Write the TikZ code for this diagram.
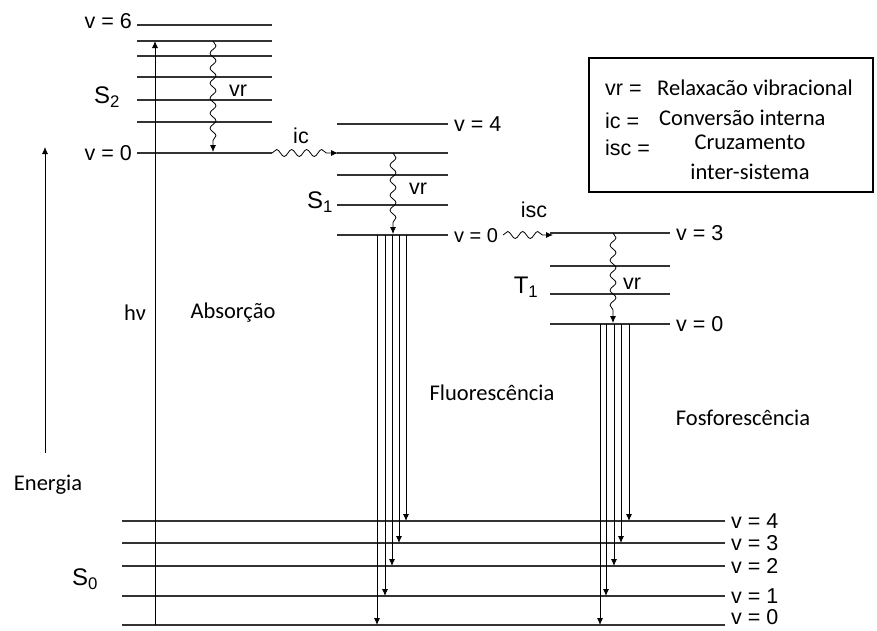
\documentclass[tikz,border=0pt]{standalone}
\usepackage{fontspec}
\setmainfont{Liberation Sans}
\newfontfamily\wordfont{Carlito}
\usetikzlibrary{arrows.meta, positioning, decorations.pathmorphing}
\tikzset{
  level/.style={line width=1.3pt, draw=black!80},
  arrow/.style={-{Latex[length=7pt,width=6pt]}, line width=0.9pt},
  wavy/.style={
    -{Latex[length=7pt,width=6pt]},
    line width=0.8pt,
    decorate,
    decoration={snake, amplitude=3pt, segment length=15pt, post length=7pt}
  },
  vlabel/.style={font=\fontsize{21.5}{24}\selectfont, inner sep=2pt},
  state/.style={font=\fontsize{24}{27}\selectfont, inner sep=0pt},
  word/.style={font=\wordfont\fontsize{22.5}{26}\selectfont, inner sep=0pt},
  legendbox/.style={draw, line width=1.8pt, inner sep=0pt}
}
\begin{document}
\begin{tikzpicture}[x=1pt, y=-1pt]
  \useasboundingbox (0,0) rectangle (877,630);

  % energy levels
  \foreach \y in {25,41,56,77,100,122,153}
    \draw[level] (137,\y) -- (272,\y);
  \foreach \y in {124,153,175,205,235}
    \draw[level] (337,\y) -- (448,\y);
  \foreach \y in {233,266,294,324}
    \draw[level] (550,\y) -- (670,\y);
  \foreach \y in {521,543,566,596,625}
    \draw[level] (122,\y) -- (725,\y);

  % state names
  \node[state] (s2) at (107,97) {S\textsubscript{2}};
  \node[state] (s1) at (320,202) {S\textsubscript{1}};
  \node[state] (t1) at (526,287) {T\textsubscript{1}};
  \node[state] (s0) at (85,579) {S\textsubscript{0}};

  % vibrational labels
  \node[vlabel, anchor=east] (s2hi) at (134,21) {v = 6};
  \node[vlabel, anchor=east] (s2lo) at (134,153) {v = 0};
  \node[vlabel, anchor=west] (s1hi) at (452,124) {v = 4};
  \node[vlabel, anchor=west, font=\fontsize{20}{23}\selectfont] (s1lo) at (452,236) {v = 0};
  \node[vlabel, anchor=west] (t1hi) at (674,233) {v = 3};
  \node[vlabel, anchor=west] (t1lo) at (674,324) {v = 0};
  \foreach \y/\v in {521/4,543/3,566/2,596/1,617/0}
    \node[vlabel, anchor=west] (s0v\v) at (729,\y) {v = \v};

  % energy axis
  \coordinate (enA) at (45,453);
  \coordinate (enB) at (45,147);
  \draw[arrow, line width=0.8pt] (enA) -- (enB);
  \node[word] (energia) at (48,485) {Energia};

  % absorption
  \coordinate (hvA) at (155,625);
  \coordinate (hvB) at (155,41);
  \draw[arrow] (hvA) -- (hvB);
  \node[word] (hv) at (135,313) {hν};
  \node[word] (abs) at (233,313) {Absorção};

  % vibrational relaxation and crossings
  \coordinate (vr2a) at (213,41);
  \coordinate (vr2b) at (213,152);
  \draw[wavy] (vr2a) -- (vr2b);
  \node[vlabel] (vr2) at (238,91) {vr};

  \coordinate (icA) at (272,153);
  \coordinate (icB) at (338,153);
  \draw[wavy, decoration={amplitude=3.5pt}] (icA) -- (icB);
  \node[vlabel] (ic) at (301,136) {ic};

  \coordinate (vr1a) at (393,153);
  \coordinate (vr1b) at (393,234);
  \draw[wavy] (vr1a) -- (vr1b);
  \node[vlabel] (vr1) at (418,189) {vr};

  \coordinate (iscA) at (503,235);
  \coordinate (iscB) at (553,235);
  \draw[wavy, decoration={amplitude=3.5pt}] (iscA) -- (iscB);
  \node[vlabel] (isc) at (534,210) {isc};

  \coordinate (vrta) at (613,233);
  \coordinate (vrtb) at (613,323);
  \draw[wavy] (vrta) -- (vrtb);
  \node[vlabel] (vrt) at (632,284) {vr};

  % emission
  \foreach \x/\y [count=\i] in {377/625,385/596,392/566,399/543,406/521} {
    \coordinate (fla\i) at (\x,235);
    \coordinate (flb\i) at (\x,\y);
    \draw[arrow] (fla\i) -- (flb\i);
  }
  \node[word] (fluor) at (492,393) {Fluorescência};

  \foreach \x/\y [count=\i] in {600/625,606/596,614/566,621/543,629/521} {
    \coordinate (pha\i) at (\x,324);
    \coordinate (phb\i) at (\x,\y);
    \draw[arrow] (pha\i) -- (phb\i);
  }
  \node[word] (phos) at (743,418) {Fosforescência};

  % legend
  \node[legendbox, anchor=north west, minimum width=284pt, minimum height=134pt]
        (legend) at (588,57) {};
  \node[vlabel, anchor=west] (kvr) at (603,90) {vr =};
  \node[word, anchor=west] (tvr) at (657,88) {Relaxacão vibracional};
  \node[vlabel, anchor=west] (kic) at (603,121) {ic =};
  \node[word, anchor=west] (tic) at (659,118) {Conversão interna};
  \node[vlabel, anchor=west] (kisc) at (603,148) {isc =};
  \node[word] (tisc1) at (750,142) {Cruzamento};
  \node[word] (tisc2) at (750,172) {inter-sistema};
\end{tikzpicture}
\end{document}
